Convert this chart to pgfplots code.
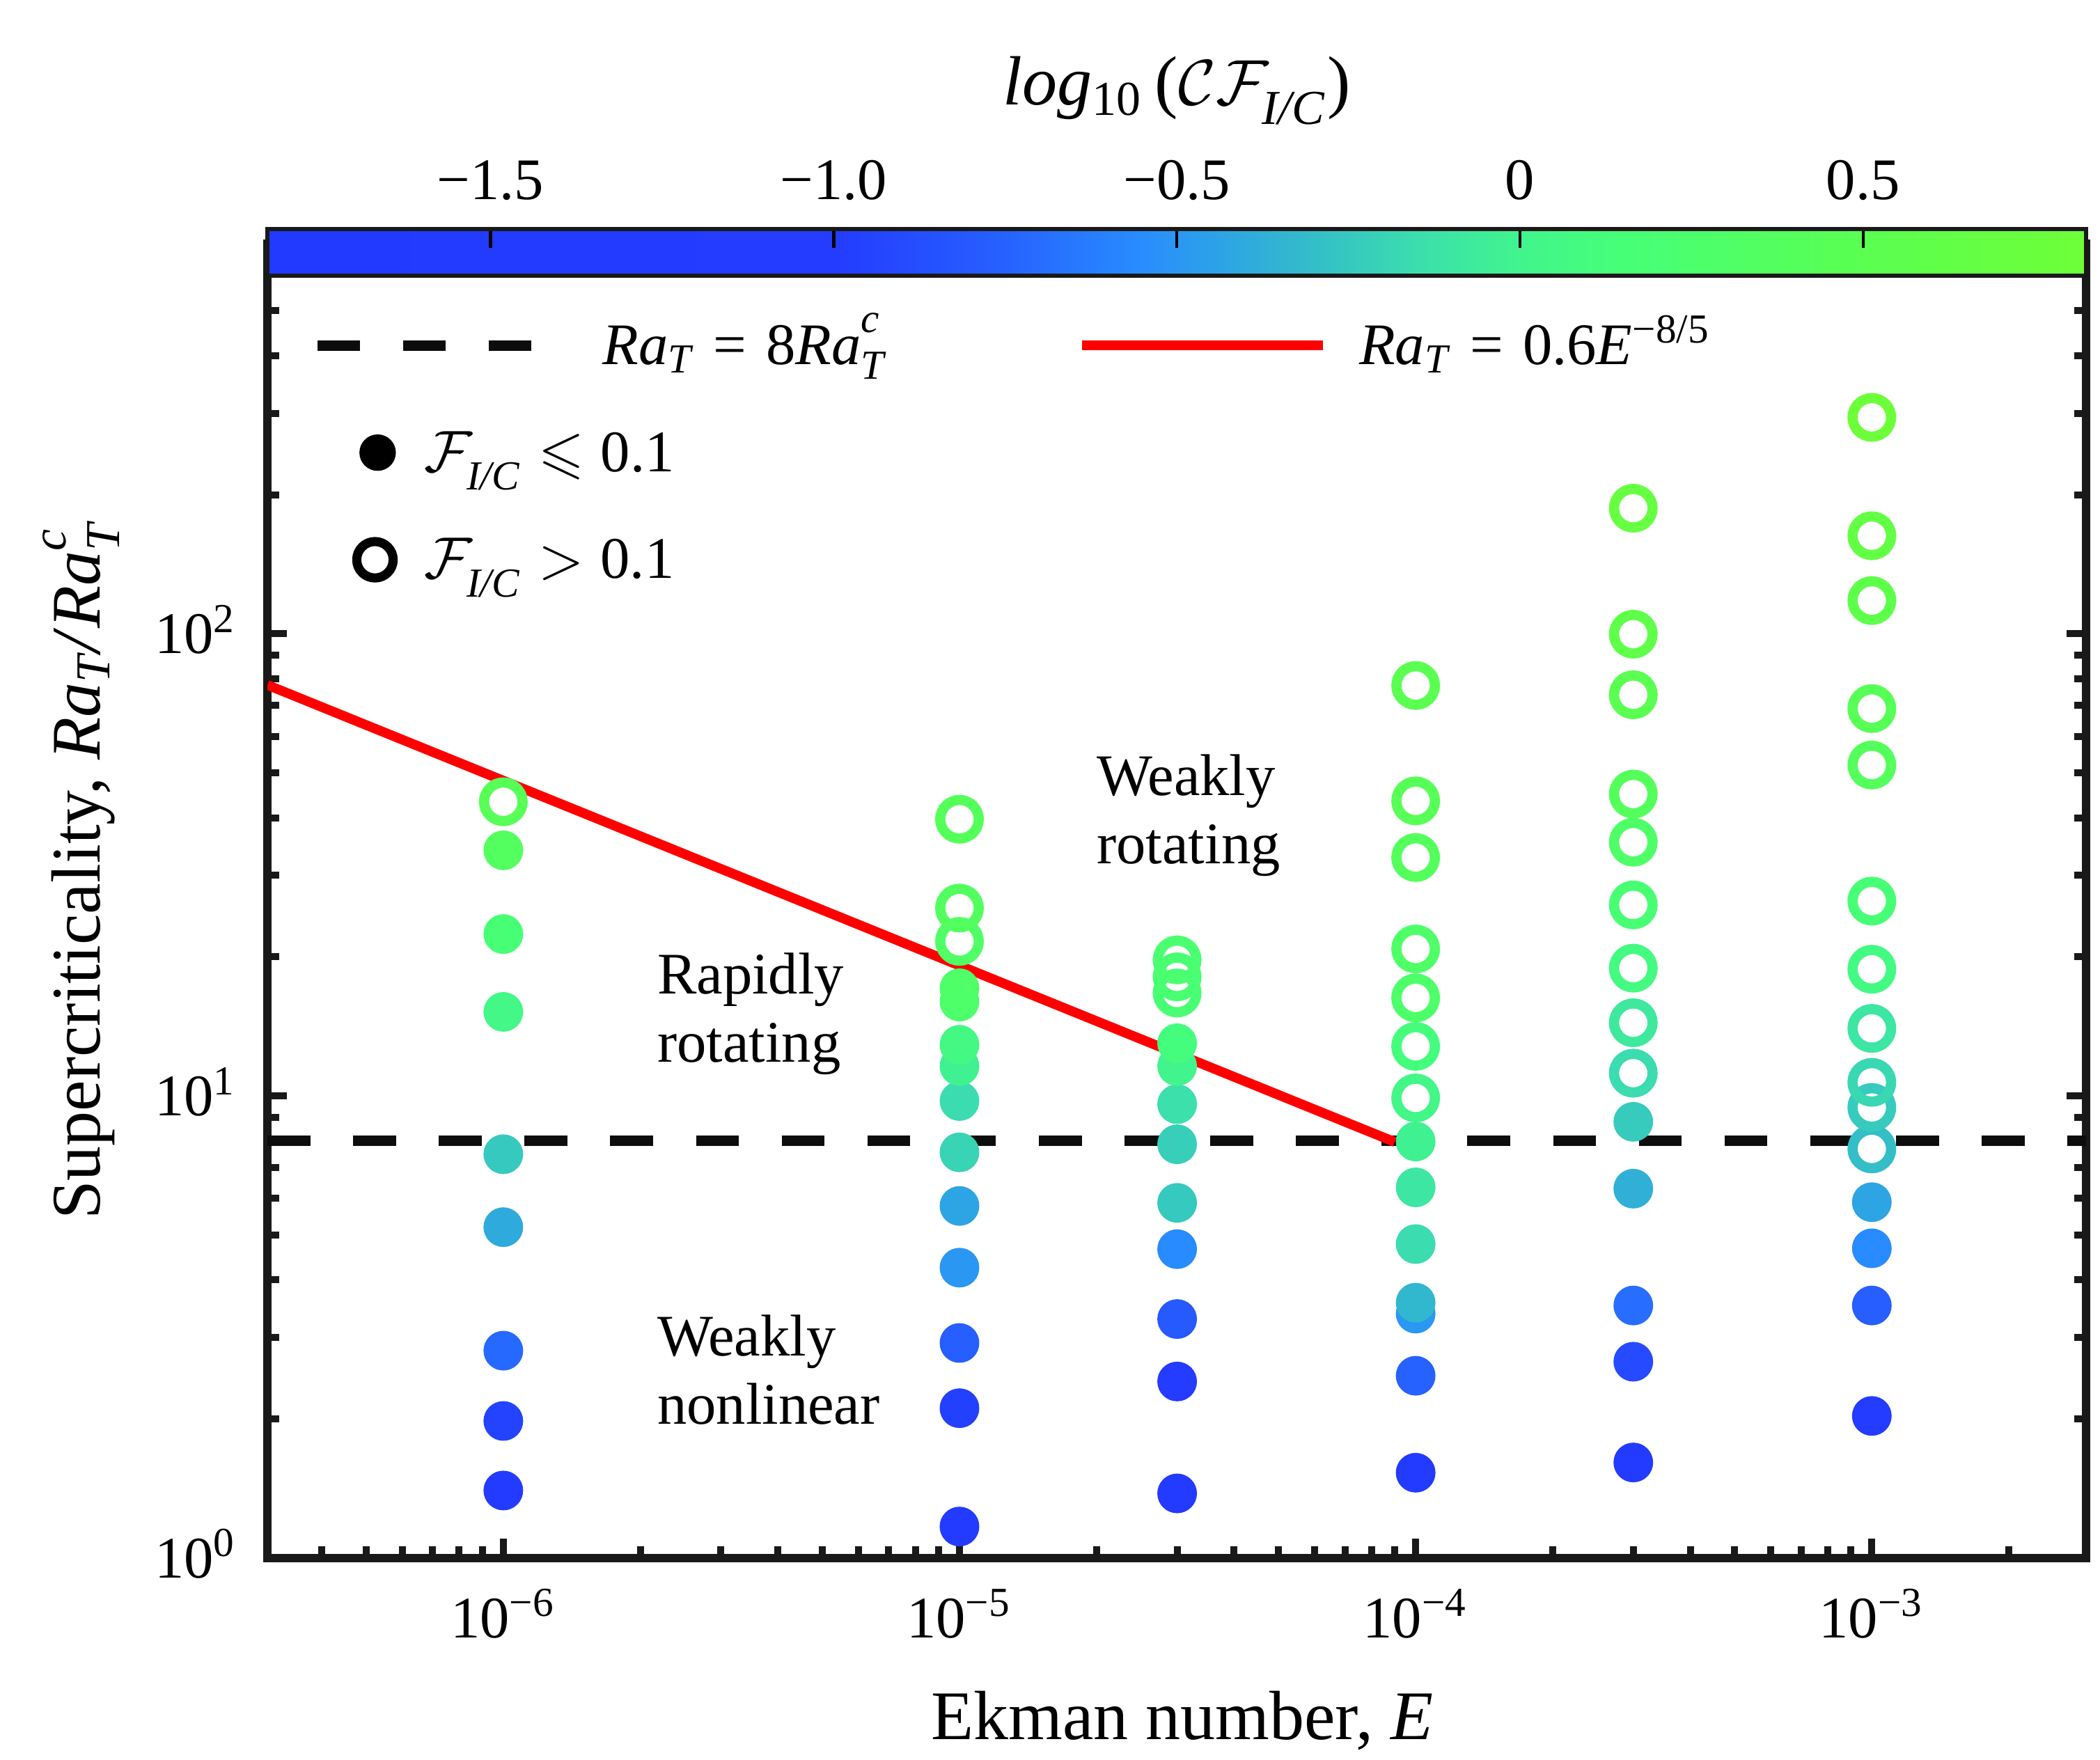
\documentclass[border=0pt]{standalone}
\usepackage{amsmath,amssymb}
\usepackage{fontspec}
\setmainfont{Liberation Serif}
\usepackage{pgfplots}
\usepackage{pgfplotstable}
\pgfplotsset{compat=1.18}

\newcommand{\RaTc}{\textit{Ra}$^{\text{\raisebox{2pt}{\textit{c}}}}_{\textit{T}}$}
\newcommand{\FIC}{\mathcal{F}_{\text{\raisebox{-1.8pt}{\textit{I/C}}}}}

\pgfplotsset{
  colormap={cfmap}{[1pt] rgb255(0pt)=(34,58,255) rgb255(83pt)=(36,60,255) rgb255(106pt)=(38,95,255) rgb255(127pt)=(40,140,255) rgb255(150pt)=(50,185,205) rgb255(169pt)=(60,225,170) rgb255(183pt)=(65,245,140) rgb255(197pt)=(70,255,120) rgb255(233pt)=(90,255,80) rgb255(265pt)=(110,255,55)}
}

\pgfplotstableread{
E R c
1e-6 1.40 -1.30
1e-6 1.98 -0.95
1e-6 2.81 -0.72
1e-6 5.2 -0.40
1e-6 7.48 -0.25
1e-6 15.2 0.05
1e-6 22.4 0.17
1e-6 34.0 0.38
1e-5 1.17 -1.40
1e-5 2.11 -0.97
1e-5 2.92 -0.77
1e-5 4.25 -0.50
1e-5 5.78 -0.43
1e-5 7.55 -0.20
1e-5 9.75 -0.16
1e-5 11.6 -0.02
1e-5 12.9 0.06
1e-5 16.0 0.27
1e-5 17.1 0.30
3e-5 1.38 -1.40
3e-5 2.41 -1.00
3e-5 3.29 -0.80
3e-5 4.66 -0.56
3e-5 5.87 -0.25
3e-5 7.86 -0.22
3e-5 9.6 -0.14
3e-5 11.6 0.00
3e-5 13.0 0.12
1e-4 1.53 -1.30
1e-4 2.48 -0.75
1e-4 3.38 -0.50
1e-4 3.57 -0.33
1e-4 4.78 -0.16
1e-4 6.34 -0.10
1e-4 7.97 -0.02
3e-4 1.61 -1.30
3e-4 2.66 -0.90
3e-4 3.52 -0.70
3e-4 6.3 -0.37
3e-4 8.79 -0.24
1e-3 2.03 -1.10
1e-3 3.52 -0.77
1e-3 4.68 -0.56
1e-3 5.89 -0.43
}\filleddata

\pgfplotstableread{
E R c
1e-6 43.3 0.45
1e-5 21.6 0.32
1e-5 25.5 0.38
1e-5 39.7 0.42
3e-5 16.7 0.18
3e-5 18.1 0.20
3e-5 19.7 0.22
1e-4 9.9 0.04
1e-4 12.8 0.12
1e-4 16.3 0.28
1e-4 20.8 0.30
1e-4 32.8 0.40
1e-4 43.5 0.45
1e-4 77.3 0.50
3e-4 11.2 -0.16
3e-4 14.4 -0.08
3e-4 18.9 0.08
3e-4 25.9 0.18
3e-4 35.4 0.30
3e-4 45.0 0.40
3e-4 73.8 0.50
3e-4 99.8 0.58
3e-4 187 0.70
1e-3 7.68 -0.30
1e-3 9.44 -0.24
1e-3 10.7 -0.18
1e-3 14.0 -0.10
1e-3 18.8 0.07
1e-3 26.4 0.17
1e-3 52.0 0.40
1e-3 68.9 0.45
1e-3 118 0.57
1e-3 163 0.65
1e-3 294 0.80
}\opendata

\begin{document}
\begin{tikzpicture}
\path[use as bounding box] (-49.925pt,-37.625pt) rectangle (342.075pt,290.875pt);
\begin{axis}[
  at={(0pt,0pt)}, anchor=south west,
  scale only axis, width=339.5pt, height=245.45pt,
  xmode=log, ymode=log,
  xmin=3.04e-7, xmax=2.95e-3, ymin=1, ymax=700,
  xtick={1e-6,1e-5,1e-4,1e-3},
  xticklabels={10\textsuperscript{−6},10\textsuperscript{−5},10\textsuperscript{−4},10\textsuperscript{−3}},
  minor xtick={4e-7,5e-7,6e-7,7e-7,8e-7,9e-7,2e-6,3e-6,4e-6,5e-6,6e-6,7e-6,8e-6,9e-6,2e-5,3e-5,4e-5,5e-5,6e-5,7e-5,8e-5,9e-5,2e-4,3e-4,4e-4,5e-4,6e-4,7e-4,8e-4,9e-4,2e-3},
  ytick={1,10,100},
  yticklabels={10\textsuperscript{0},10\textsuperscript{1},10\textsuperscript{2}},
  minor ytick={2,3,4,5,6,7,8,9,20,30,40,50,60,70,80,90,200,300,400,500,600,700},
  tick align=inside,
  major tick length=3.7pt, minor tick length=2.2pt,
  tick style={line width=1.3pt, color=black!90},
  axis line style={line width=1.5pt, black!90},
  xticklabel style={font=\fontsize{11}{13}\selectfont, anchor=base, yshift=-14.9pt, inner sep=0pt},
  yticklabel style={font=\fontsize{11}{13}\selectfont, anchor=base east, xshift=-5.5pt, yshift=-3.7pt, inner sep=0pt},
  xlabel={Ekman number, \textit{E}},
  ylabel={Supercriticality, \textit{Ra}$_{\textit{T}}$\textit{/}\RaTc},
  xlabel style={font=\fontsize{13}{15}\selectfont, at={(axis description cs:0.503,0)}, anchor=base, yshift=-33.9pt, inner sep=0pt},
  ylabel style={font=\fontsize{13}{15}\selectfont, at={(axis description cs:-0.0922,0.523)}, anchor=base, inner sep=0pt},
  colormap name=cfmap,
  point meta min=-1.825, point meta max=0.825,
  colorbar horizontal,
  colorbar style={
    at={(parent axis.north west)}, anchor=south west, yshift=2.5pt,
    scale only axis, width=339.5pt, height=8.7pt,
    xtick={-1.5,-1,-0.5,0,0.5},
    xticklabels={−1.5,−1.0,−0.5,0,0.5},
    xtick pos=right, xticklabel pos=right,
    ytick=\empty,
    tick align=inside,
    major tick length=3.5pt,
    tick style={line width=0.6pt, color=black},
    axis line style={line width=0.7pt, black!90},
    xticklabel style={font=\fontsize{11}{13}\selectfont, anchor=base, yshift=5.5pt, inner sep=0pt},
    xlabel={\textit{log}$_{\text{10}}$\,($\mathcal{C}\FIC$)},
    xlabel style={font=\fontsize{13}{15}\selectfont, at={(axis description cs:0.5,1)}, anchor=base, yshift=23.2pt, inner sep=0pt},
  },
  legend columns=2,
  legend cell align=left,
  legend style={
    at={(0.02747,0.963)}, anchor=north west,
    draw=none, fill=none, inner sep=0pt, outer sep=0pt,
    row sep=0pt, column sep=0pt,
    nodes={inner sep=0pt, outer sep=0pt, text height=13.5pt, text depth=6.5pt, text width=122.75pt, font=\fontsize{11}{13}\selectfont},
  },
]
\addlegendimage{legend image code/.code={\path[draw=none,fill=none] (0pt,0pt) -- (20pt,0pt); \draw[overlay, black!95, line width=1.9pt, dash pattern=on 7.9pt off 8.1pt] (0pt,0pt) -- (40.25pt,0pt);}}
\addlegendentry{\hspace*{33.25pt}\textit{Ra}$_{\textit{T}}$ = 8\RaTc}
\addlegendimage{legend image code/.code={\path[draw=none,fill=none] (0pt,0pt) -- (51.75pt,0pt); \draw[overlay, red, line width=1.8pt] (0pt,0pt) -- (45pt,0pt);}}
\addlegendentry{\textit{Ra}$_{\textit{T}}$ = 0.6\textit{E}\textsuperscript{−8/5}}
\addlegendimage{legend image code/.code={\path[draw=none,fill=none] (0pt,0pt) -- (20pt,0pt); \path[overlay, draw=black, fill=black, line width=0.4pt] plot[mark=*, mark size=3.2pt] coordinates {(11.25pt,0pt)};}}
\addlegendentry{$\FIC \leqslant \text{0.1}$}
\addlegendimage{empty legend}
\addlegendentry{}
\addlegendimage{legend image code/.code={\path[draw=none,fill=none] (0pt,0pt) -- (20pt,0pt); \path[overlay, draw=black, line width=1.7pt] plot[mark=o, mark size=3.4pt] coordinates {(10.75pt,0pt)};}}
\addlegendentry{$\FIC > \text{0.1}$}

\addplot[forget plot, black!95, line width=1.9pt, dash pattern=on 8pt off 8pt] coordinates {(3.04e-7,8) (2.95e-3,8)};
\addplot[forget plot, red, line width=1.8pt] coordinates {(3.04e-7,77.5) (9e-5,7.95)};

\addplot[forget plot, scatter, only marks, mark=*, mark size=3.5pt, scatter src=explicit,
  scatter/use mapped color={draw=mapped color, fill=mapped color, line width=0.4pt}]
  table[x=E, y=R, meta=c] {\filleddata};
\addplot[forget plot, scatter, only marks, mark=o, mark size=3.6pt, line width=1.9pt, scatter src=explicit,
  scatter/use mapped color={draw=mapped color, line width=1.9pt}]
  table[x=E, y=R, meta=c] {\opendata};

\node[font=\fontsize{11}{12.75}\selectfont, align=left, anchor=west, inner sep=0pt] at (rel axis cs:0.4555,0.5648) {Weakly\\rotating};
\node[font=\fontsize{11}{12.75}\selectfont, align=left, anchor=west, inner sep=0pt] at (rel axis cs:0.2138,0.414) {Rapidly\\rotating};
\node[font=\fontsize{11}{12.75}\selectfont, align=left, anchor=west, inner sep=0pt] at (rel axis cs:0.2138,0.1431) {Weakly\\nonlinear};
\end{axis}
\end{tikzpicture}
\end{document}
